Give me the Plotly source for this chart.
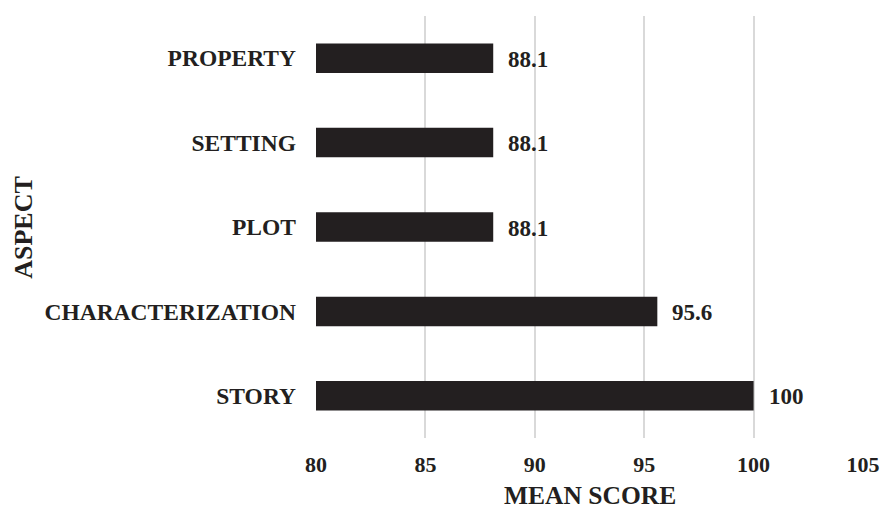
import plotly.graph_objects as go

aspects = ["STORY", "CHARACTERIZATION", "PLOT", "SETTING", "PROPERTY"]
mean_scores = [100, 95.6, 88.1, 88.1, 88.1]
value_labels = ["100", "95.6", "88.1", "88.1", "88.1"]
x_ticks = [80, 85, 90, 95, 100, 105]

FONT = "Liberation Serif"
INK = "#231F20"

fig = go.Figure()
fig.add_trace(go.Bar(
    y=aspects, x=mean_scores, orientation="h",
    marker=dict(color=INK, line=dict(width=0)),
    width=0.35, hoverinfo="skip",
))

for a, v, t in zip(aspects, mean_scores, value_labels):
    fig.add_annotation(x=v, y=a, text="<b>%s</b>" % t, showarrow=False,
                       xanchor="left", xshift=13, yshift=-1,
                       font=dict(family=FONT, size=23, color=INK))

fig.add_annotation(text="<b>MEAN SCORE</b>", xref="paper", yref="paper",
                   x=0.5, y=-0.136, xanchor="center", yanchor="middle", showarrow=False,
                   font=dict(family=FONT, size=25.5, color=INK))
fig.add_annotation(text="<b>ASPECT</b>", xref="paper", yref="paper",
                   x=-0.536, y=0.5, xanchor="center", yanchor="middle", showarrow=False,
                   textangle=-90, font=dict(family=FONT, size=26, color=INK))

fig.update_layout(
    width=882, height=512,
    margin=dict(l=316, r=19, t=16, b=74),
    paper_bgcolor="white", plot_bgcolor="white",
    showlegend=False,
    font=dict(family=FONT, size=23, color=INK),
    xaxis=dict(range=[80, 105], tickvals=x_ticks, ticktext=["<b>%d</b>" % v for v in x_ticks],
               tickfont=dict(family=FONT, size=22, color=INK),
               showgrid=True, gridcolor="#D9D9D9", gridwidth=2, zeroline=False,
               showline=False, ticks="", ticklabelstandoff=11, fixedrange=True,
               automargin=False, ticklabeloverflow="allow"),
    yaxis=dict(categoryorder="array", categoryarray=aspects,
               ticktext=["<b>%s</b>" % a for a in aspects], tickvals=aspects,
               tickfont=dict(family=FONT, size=23.5, color=INK),
               showgrid=False, zeroline=False, showline=False, ticks="",
               ticklabelstandoff=19, fixedrange=True, automargin=False),
)

fig.write_html("out.html", config={"displayModeBar": False},
               post_script="document.body.style.margin='0';document.body.style.overflow='hidden';")
